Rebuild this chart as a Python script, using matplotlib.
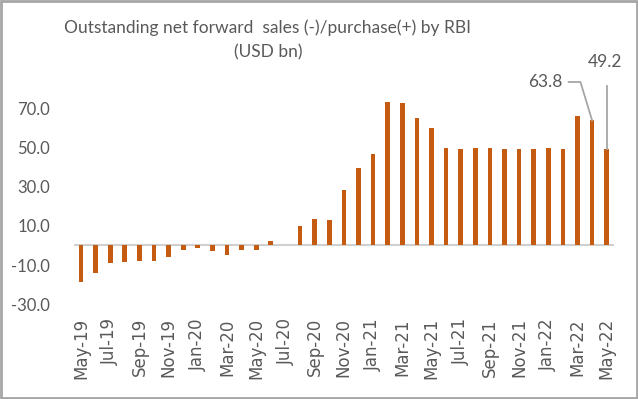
import matplotlib.pyplot as plt
import numpy as np

months = ["May-19", "Jun-19", "Jul-19", "Aug-19", "Sep-19", "Oct-19", "Nov-19", "Dec-19",
          "Jan-20", "Feb-20", "Mar-20", "Apr-20", "May-20", "Jun-20", "Jul-20", "Aug-20",
          "Sep-20", "Oct-20", "Nov-20", "Dec-20", "Jan-21", "Feb-21", "Mar-21", "Apr-21",
          "May-21", "Jun-21", "Jul-21", "Aug-21", "Sep-21", "Oct-21", "Nov-21", "Dec-21",
          "Jan-22", "Feb-22", "Mar-22", "Apr-22", "May-22"]
values = [-18.4, -13.8, -8.7, -8.2, -7.7, -7.7, -6.1, -2.2,
          -1.5, -2.6, -5.1, -2.2, -2.2, 2.4, 0.0, 10.0,
          13.4, 12.8, 28.1, 39.6, 46.9, 73.0, 72.8, 64.8,
          59.7, 49.8, 49.3, 49.8, 49.8, 49.3, 49.3, 49.3,
          49.8, 49.3, 65.8, 63.8, 49.2]
yticks = [-30, -10, 10, 30, 50, 70]

plt.rcParams["font.family"] = ["Lato", "DejaVu Sans"]
grey = "#595959"
lead = "#A6A6A6"

fig = plt.figure(figsize=(6.38, 3.99), dpi=100)
ax = fig.add_axes([0.1155, 0.2373, 0.8469, 0.5897])

x = np.arange(len(values))
ax.bar(x, values, width=0.32, color="#C55A11", zorder=2)
ax.axhline(0, color="#D0D0D0", linewidth=1.5, zorder=1)

ax.set_xlim(-0.5, len(values) - 0.5)
ax.set_ylim(-30, 90)
ax.set_yticks(yticks)
ax.set_yticklabels([f"{v:.1f}" for v in yticks], fontsize=12, color=grey)
ax.set_xticks(x[::2])
ax.set_xticklabels(months[::2], rotation=90, fontsize=12, color=grey, family="DejaVu Sans")
ax.tick_params(axis="both", length=0)
ax.tick_params(axis="y", pad=17)
ax.tick_params(axis="x", pad=10)
for s in ax.spines.values():
    s.set_visible(False)

# Title centred over the plot area like the original
fig.text(268 / 638, 1 - 40 / 399, "Outstanding net forward  sales (-)/purchase(+) by RBI\n(USD bn)",
         ha="center", va="center", fontsize=12.5, color=grey, linespacing=1.6)

# leader labels for the last two bars
i_apr, i_may = len(values) - 2, len(values) - 1
ax.text(i_apr - 3.2, 83.4, f"{values[i_apr]:.1f}", ha="center", va="center",
        fontsize=12.5, color=grey)
ax.plot([i_apr - 1.6, i_apr - 0.8, i_apr], [83.4, 83.4, values[i_apr]],
        color=lead, lw=1.3, clip_on=False, zorder=3)
ax.text(i_may - 0.1, 93.6, f"{values[i_may]:.1f}", ha="center", va="center",
        fontsize=12.5, color=grey, clip_on=False)
ax.plot([i_may, i_may], [81.4, values[i_may]], color=lead, lw=1.3, clip_on=False, zorder=3)

# outer frame
fig.patches.append(plt.Rectangle((0.002, 0.003), 0.996, 0.994, transform=fig.transFigure,
                                 fill=False, edgecolor="#A6A6A6", linewidth=2))

fig.savefig("out.png", dpi=100)
